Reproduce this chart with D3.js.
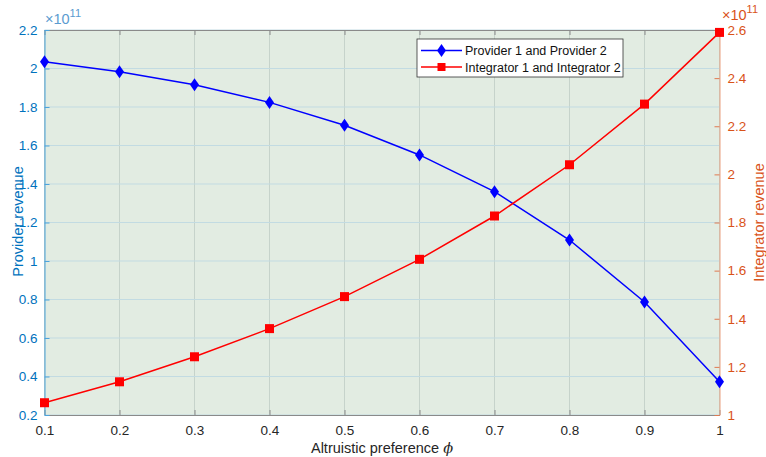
<!DOCTYPE html>
<html><head><meta charset="utf-8">
<script src="https://cdn.jsdelivr.net/npm/d3@7"></script>
<style>body{margin:0;background:#fff}svg{display:block;font-family:"Liberation Sans",Arial,sans-serif}</style>
</head><body><svg id="c" width="766" height="457"></svg>
<script>
const phi = [0.1,0.2,0.3,0.4,0.5,0.6,0.7,0.8,0.9,1.0];
const providerRevenue = [2.035,1.983,1.916,1.824,1.705,1.551,1.360,1.109,0.787,0.373];
const integratorRevenue = [1.051,1.138,1.242,1.359,1.492,1.647,1.827,2.040,2.292,2.590];
const xTicks = [0.1,0.2,0.3,0.4,0.5,0.6,0.7,0.8,0.9,1];
const leftTicks = [0.2,0.4,0.6,0.8,1,1.2,1.4,1.6,1.8,2,2.2];
const rightTicks = [1,1.2,1.4,1.6,1.8,2,2.2,2.4,2.6];
const seriesNames = ["Provider 1 and Provider 2","Integrator 1 and Integrator 2"];

const L=44.5, R=719.5, T=30, B=415;
const svg=d3.select("#c");
const x=d3.scaleLinear().domain([0.1,1]).range([L,R]);
const yL=d3.scaleLinear().domain([0.2,2.2]).range([B,T]);
const yR=d3.scaleLinear().domain([1,2.6]).range([B,T]);
const blueTxt="#0072BD", redTxt="#D95319";
const FF="Liberation Sans, Arial, sans-serif";

svg.append("rect").attr("x",L).attr("y",T).attr("width",R-L).attr("height",B-T).attr("fill","#e2ece2");
// grid
svg.append("g").selectAll("line").data(xTicks).join("line")
  .attr("x1",d=>x(d)).attr("x2",d=>x(d)).attr("y1",T).attr("y2",B)
  .attr("stroke","#c6d3cb").attr("stroke-width",1);
svg.append("g").selectAll("line").data(leftTicks).join("line")
  .attr("x1",L).attr("x2",R).attr("y1",d=>yL(d)).attr("y2",d=>yL(d))
  .attr("stroke","#c2dbe2").attr("stroke-width",1);

// axes
const fmt=d=>String(+d.toFixed(1));
const xb=svg.append("g").attr("transform",`translate(0,${B})`)
  .call(d3.axisBottom(x).tickValues(xTicks).tickSizeInner(-5).tickSizeOuter(0).tickPadding(10).tickFormat(fmt));
const xt=svg.append("g").attr("transform",`translate(0,${T})`)
  .call(d3.axisTop(x).tickValues(xTicks).tickSizeInner(-5).tickSizeOuter(0).tickFormat(""));
[xb,xt].forEach(g=>{g.select(".domain").attr("stroke","#8a8a8a");g.selectAll(".tick line").attr("stroke","#8a8a8a");});
xb.selectAll("text").attr("fill","#262626").attr("font-size",13.5).attr("font-family",FF);

const yl=svg.append("g").attr("transform",`translate(${L},0)`)
  .call(d3.axisLeft(yL).tickValues(leftTicks).tickSizeInner(-5).tickSizeOuter(0).tickPadding(7).tickFormat(fmt));
yl.select(".domain").attr("stroke","#4da3dc");
yl.selectAll(".tick line").attr("stroke","#4da3dc");
yl.selectAll("text").attr("fill",blueTxt).attr("font-size",13.5).attr("font-family",FF);

const yr=svg.append("g").attr("transform",`translate(${R},0)`)
  .call(d3.axisRight(yR).tickValues(rightTicks).tickSizeInner(-5).tickSizeOuter(0).tickPadding(8).tickFormat(fmt));
yr.select(".domain").attr("stroke","#eaa080");
yr.selectAll(".tick line").attr("stroke","#e07a50");
yr.selectAll("text").attr("fill",redTxt).attr("font-size",13.5).attr("font-family",FF);

// exponents
const e1=svg.append("text").attr("x",45).attr("y",24).attr("fill","#5b9bd0").attr("font-size",14.5);
e1.append("tspan").text("×10");
e1.append("tspan").attr("dy",-7).attr("font-size",11).text("11");
const e2=svg.append("text").attr("x",722).attr("y",20).attr("fill",redTxt).attr("font-size",14.5);
e2.append("tspan").text("×10");
e2.append("tspan").attr("dy",-7).attr("font-size",11).text("11");

// axis labels
svg.append("text").attr("transform",`translate(23,${(T+B)/2-1}) rotate(-90)`).attr("text-anchor","middle")
  .attr("fill",blueTxt).attr("font-size",14.5).text("Provider revenue");
svg.append("text").attr("transform",`translate(764,${(T+B)/2}) rotate(-90)`).attr("text-anchor","middle")
  .attr("fill",redTxt).attr("font-size",14.5).text("Integrator revenue");
const xl=svg.append("text").attr("x",(L+R)/2).attr("y",453).attr("text-anchor","middle").attr("fill","#262626").attr("font-size",14.5);
xl.append("tspan").text("Altruistic preference ");
xl.append("tspan").attr("font-style","italic").attr("font-family","DejaVu Serif, serif").text("ϕ");

// lines
const g=svg.append("g");
g.append("path").datum(phi.map((p,i)=>[x(p),yL(providerRevenue[i])]))
  .attr("d",d3.line()).attr("fill","none").attr("stroke","#0000ff").attr("stroke-width",1.5);
g.append("path").datum(phi.map((p,i)=>[x(p),yR(integratorRevenue[i])]))
  .attr("d",d3.line()).attr("fill","none").attr("stroke","#ff0000").attr("stroke-width",1.5);
const diamond=(cx,cy)=>`M${cx},${cy-6.5}L${cx+4.5},${cy}L${cx},${cy+6.5}L${cx-4.5},${cy}Z`;
g.selectAll(".pd").data(phi).join("path").attr("class","pd")
  .attr("d",(p,i)=>diamond(x(p),yL(providerRevenue[i]))).attr("fill","#0000ff");
g.selectAll(".ps").data(phi).join("rect").attr("class","ps")
  .attr("x",(p)=>x(p)-4.5).attr("y",(p,i)=>yR(integratorRevenue[i])-4.5).attr("width",9).attr("height",9).attr("fill","#ff0000");

// legend
const lg=svg.append("g");
lg.append("rect").attr("x",417).attr("y",39).attr("width",206).attr("height",38).attr("fill","#fff").attr("stroke","#333").attr("stroke-width",0.8);
lg.append("line").attr("x1",421).attr("x2",462).attr("y1",50.5).attr("y2",50.5).attr("stroke","#0000ff").attr("stroke-width",1.5);
lg.append("path").attr("d",diamond(441.5,50.5)).attr("fill","#0000ff");
lg.append("line").attr("x1",421).attr("x2",462).attr("y1",67).attr("y2",67).attr("stroke","#ff0000").attr("stroke-width",1.5);
lg.append("rect").attr("x",437.5).attr("y",63).attr("width",8).attr("height",8).attr("fill","#ff0000");
lg.selectAll(".lt").data(seriesNames).join("text").attr("class","lt")
  .attr("x",465).attr("y",(d,i)=>55+i*16.5).attr("font-size",12.5).attr("fill","#111").attr("font-family",FF).text(d=>d);
</script></body></html>
